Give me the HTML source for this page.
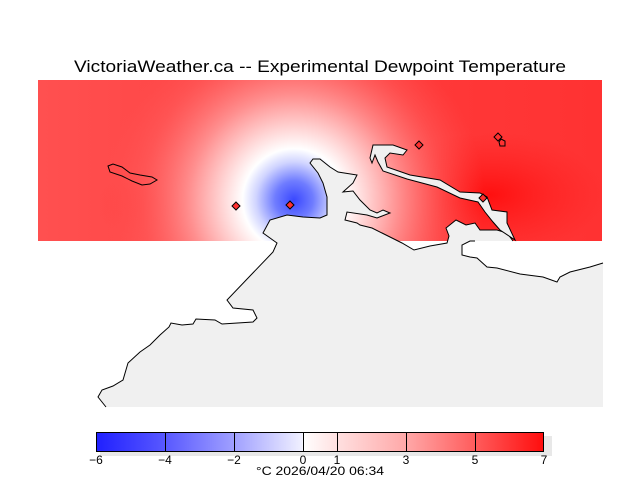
<!DOCTYPE html>
<html><head><style>
html,body{margin:0;padding:0;background:#fff;}
svg{display:block;font-family:"Liberation Sans",sans-serif;}
</style></head><body>
<svg width="640" height="480" viewBox="0 0 640 480" xmlns="http://www.w3.org/2000/svg">
<defs>
<clipPath id="fc"><rect x="38" y="80" width="564" height="161"/></clipPath>
<radialGradient id="blue" gradientUnits="userSpaceOnUse" cx="294" cy="200" r="190" gradientTransform="translate(294 200) scale(1 1.0) translate(-294 -200)">
<stop offset="0" stop-color="#3a48ff"/>
<stop offset="0.1" stop-color="#6f7cff"/>
<stop offset="0.2" stop-color="#d0d4ff"/>
<stop offset="0.27" stop-color="#ffffff"/>
<stop offset="0.38" stop-color="#ffd4d4"/>
<stop offset="0.55" stop-color="#ff9090"/>
<stop offset="0.8" stop-color="#ff6060" stop-opacity="0.5"/>
<stop offset="1" stop-color="#ff5050" stop-opacity="0"/>
</radialGradient>
<radialGradient id="r1" gradientUnits="userSpaceOnUse" cx="215" cy="205" r="120" gradientTransform="translate(215 205) scale(1 0.4) translate(-215 -205)">
<stop offset="0" stop-color="#ff2e2e"/>
<stop offset="1" stop-color="#ff4040" stop-opacity="0"/>
</radialGradient>
<radialGradient id="r2" gradientUnits="userSpaceOnUse" cx="490" cy="195" r="90" gradientTransform="translate(490 195) scale(1.3 0.7) translate(-490 -195)">
<stop offset="0" stop-color="#ff1010"/>
<stop offset="1" stop-color="#ff2020" stop-opacity="0"/>
</radialGradient>
<linearGradient id="base" x1="38" y1="0" x2="602" y2="0" gradientUnits="userSpaceOnUse">
<stop offset="0" stop-color="#ff5050"/>
<stop offset="0.6" stop-color="#ff3a3a"/>
<stop offset="1" stop-color="#ff3232"/>
</linearGradient>
<linearGradient id="cb" x1="96" y1="0" x2="544" y2="0" gradientUnits="userSpaceOnUse">
<stop offset="0" stop-color="#2020ff"/>
<stop offset="0.154" stop-color="#5858ff"/>
<stop offset="0.308" stop-color="#a0a0ff"/>
<stop offset="0.46" stop-color="#f0f0ff"/>
<stop offset="0.462" stop-color="#ffffff"/>
<stop offset="0.538" stop-color="#ffe0e0"/>
<stop offset="0.692" stop-color="#ffa8a8"/>
<stop offset="0.846" stop-color="#ff5c5c"/>
<stop offset="1" stop-color="#ff0d0d"/>
</linearGradient>
</defs>
<text x="320" y="72" text-anchor="middle" font-size="17" textLength="492" lengthAdjust="spacingAndGlyphs" fill="#000">VictoriaWeather.ca -- Experimental Dewpoint Temperature</text>
<g clip-path="url(#fc)">
<rect x="38" y="80" width="564" height="161" fill="url(#base)"/>
<rect x="38" y="80" width="564" height="161" fill="url(#r1)"/>
<rect x="38" y="80" width="564" height="161" fill="url(#r2)"/>
<rect x="38" y="80" width="564" height="161" fill="url(#blue)"/>
</g>
<path d="M270,220 L287,215 303,217 320,218 327,215 327,197 323,183 318,173 310,163 313,159 320,159 330,167 338,172 357,175 353,183 343,192 353,191 360,200 370,210 377,213 383,210 390,213 377,218 367,215 347,212 345,220 357,223 360,225 372,228 382,233 402,243 414,250 430,246 447,243 449,236 446,228 456,220 466,225 475,223 480,230 497,230 507,233 513,241 470,241 462,245 462,255 470,257 477,258 487,267 497,268 520,274 543,277 557,282 560,277 570,272 590,267 603,263 603,407 106,407 98,397 102,390 113,386 123,380 128,363 140,352 150,345 160,335 169,327 171,323 182,325 193,324 196,319 215,320 222,324 253,322 257,318 253,310 233,308 227,300 273,252 277,243 263,233 270,220 Z" fill="#f0f0f0"/>
<polyline points="603,263 590,267 570,272 560,277 557,282 543,277 520,274 497,268 487,267 477,258 470,257 462,255 462,245 470,241 475,241" fill="none" stroke="#000"/>
<polyline points="513,241 507,233 497,230 480,230 475,223 466,225 456,220 446,228 449,236 447,243 430,246 414,250 402,243 382,233 372,228 360,225 357,223 345,220 347,212 367,215 377,218 390,213 383,210 377,213 370,210 360,200 353,191 343,192 353,183 357,175 338,172 330,167 320,159 313,159 310,163 318,173 323,183 327,197 327,215 320,218 303,217 287,215 270,220 263,233 277,243 273,252 227,300 233,308 253,310 257,318 253,322 222,324 215,320 196,319 193,324 182,325 171,323 169,327 160,335 150,345 140,352 128,363 123,380 113,386 102,390 98,397 106,407" fill="none" stroke="#000"/>
<path d="M373,145 L393,145 407,150 403,155 390,153 385,158 387,167 410,175 440,180 460,192 480,193 487,197 492,210 507,212 507,223 515,240 500,230 493,222 485,212 478,202 460,198 437,187 407,179 383,171 378,162 375,155 372,163 370,158 Z" fill="#f0f0f0" stroke="#000"/>
<path d="M108,166 L113,164 122,167 130,173 140,175 152,177 157,180 150,184 142,185 132,181 122,176 110,172 Z" fill="none" stroke="#000" stroke-width="1"/>
<g fill="#ff3030" stroke="#000" stroke-width="1">
<path d="M236,202 L240,206 236,210 232,206 Z"/>
<path d="M290,201 L294,205 290,209 286,205 Z"/>
<path d="M419,141 L423,145 419,149 415,145 Z"/>
<path d="M498,133 L502,137 498,141 494,137 Z"/>
<path d="M501,139 L505,141 505,146 500,146 499,142 Z" fill="none"/>
<path d="M483,194 L487,198 483,202 479,198 Z"/>
</g>
<rect x="100" y="436" width="452" height="20" fill="#e8e8e8"/>
<rect x="96.5" y="432.5" width="447" height="19" fill="url(#cb)" stroke="#000" stroke-width="1"/>
<g stroke="#000" stroke-width="1">
<line x1="165.5" y1="432" x2="165.5" y2="452"/>
<line x1="234.5" y1="432" x2="234.5" y2="452"/>
<line x1="303.5" y1="432" x2="303.5" y2="452"/>
<line x1="337.5" y1="432" x2="337.5" y2="452"/>
<line x1="406.5" y1="432" x2="406.5" y2="452"/>
<line x1="475.5" y1="432" x2="475.5" y2="452"/>
</g>
<g font-size="12" text-anchor="middle" fill="#000">
<text x="96" y="464">−6</text>
<text x="165" y="464">−4</text>
<text x="234" y="464">−2</text>
<text x="303" y="464">0</text>
<text x="337" y="464">1</text>
<text x="406" y="464">3</text>
<text x="475" y="464">5</text>
<text x="544" y="464">7</text>
<text x="320" y="475" textLength="128" lengthAdjust="spacingAndGlyphs">°C  2026/04/20 06:34</text>
</g>
</svg>
</body></html>
